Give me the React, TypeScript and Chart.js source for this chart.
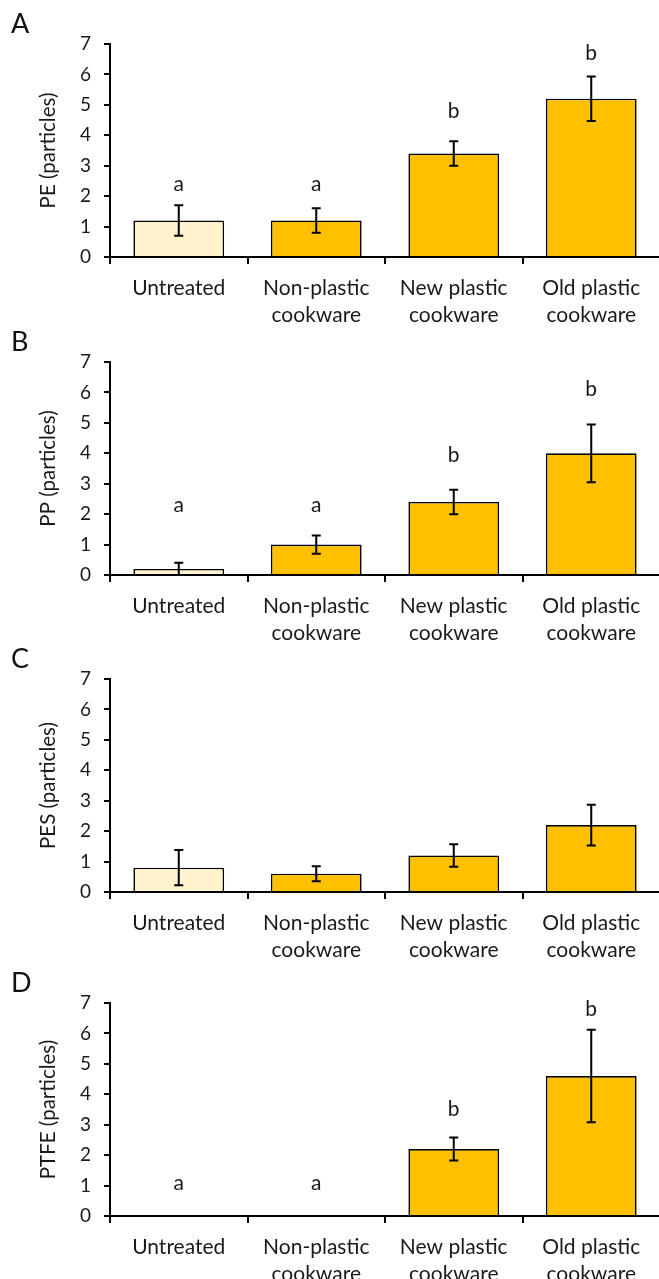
import React, { useEffect, useRef } from "react";
import { Chart, registerables } from "chart.js";

Chart.register(...registerables);

// ---------- data ----------
const categories: (string | string[])[] = [
  "Untreated",
  ["Non-plastic", "cookware"],
  ["New plastic", "cookware"],
  ["Old plastic", "cookware"],
];
const barColors = ["#FFF2CC", "#FFC000", "#FFC000", "#FFC000"];
const yTickMax = 7;

const peMeans = [1.2, 1.2, 3.4, 5.2];
const peErrors = [0.5, 0.4, 0.4, 0.73];
const peLetters = ["a", "a", "b", "b"];
const peLetterY = [2.4, 2.4, 4.8, 6.7];

const ppMeans = [0.2, 1.0, 2.4, 4.0];
const ppErrors = [0.2, 0.3, 0.4, 0.95];
const ppLetters = ["a", "a", "b", "b"];
const ppLetterY = [2.3, 2.3, 3.93, 6.12];

const pesMeans = [0.8, 0.6, 1.2, 2.2];
const pesErrors = [0.58, 0.25, 0.37, 0.67];
const pesLetters: string[] = [];
const pesLetterY: number[] = [];

const ptfeMeans = [0, 0, 2.2, 4.6];
const ptfeErrors = [0, 0, 0.38, 1.52];
const ptfeLetters = ["a", "a", "b", "b"];
const ptfeLetterY = [1.08, 1.08, 3.5, 6.78];

const panels = [
  { tag: "A", yTitle: "PE (particles)", means: peMeans, errors: peErrors, letters: peLetters, letterY: peLetterY, top: 0 },
  { tag: "B", yTitle: "PP (particles)", means: ppMeans, errors: ppErrors, letters: ppLetters, letterY: ppLetterY, top: 318 },
  { tag: "C", yTitle: "PES (particles)", means: pesMeans, errors: pesErrors, letters: pesLetters, letterY: pesLetterY, top: 635 },
  { tag: "D", yTitle: "PTFE (particles)", means: ptfeMeans, errors: ptfeErrors, letters: ptfeLetters, letterY: ptfeLetterY, top: 959 },
];

const FONT = "Lato, 'Open Sans', sans-serif";
const CANVAS_W = 660;
const CANVAS_H = 330;
const AREA_TOP = 44;
const AREA_H = 213;
const Y_AXIS_W = 110;

type PanelProps = {
  tag: string;
  yTitle: string;
  means: number[];
  errors: number[];
  letters: string[];
  letterY: number[];
  top: number;
};

function Panel(p: PanelProps) {
  const ref = useRef<HTMLCanvasElement | null>(null);
  useEffect(() => {
    if (!ref.current) return;
    const errorBars = {
      id: "errorBars",
      afterDatasetsDraw(chart: any) {
        const ctx = chart.ctx;
        const meta = chart.getDatasetMeta(0);
        const ys = chart.scales.y;
        ctx.save();
        ctx.strokeStyle = "#000";
        ctx.lineWidth = 2;
        meta.data.forEach((bar: any, i: number) => {
          const e = p.errors[i];
          if (!e) return;
          const x = bar.x;
          const yHi = ys.getPixelForValue(p.means[i] + e);
          const yLo = ys.getPixelForValue(Math.max(0, p.means[i] - e));
          ctx.beginPath();
          ctx.moveTo(x, yHi);
          ctx.lineTo(x, yLo);
          ctx.moveTo(x - 4.5, yHi);
          ctx.lineTo(x + 4.5, yHi);
          ctx.moveTo(x - 4.5, yLo);
          ctx.lineTo(x + 4.5, yLo);
          ctx.stroke();
        });
        // significance letters
        ctx.fillStyle = "#1a1a1a";
        ctx.font = `21px ${FONT}`;
        ctx.textAlign = "center";
        ctx.textBaseline = "middle";
        p.letters.forEach((l, i) => {
          const x = meta.data[i].x;
          const y = ys.getPixelForValue(p.letterY[i]);
          ctx.fillText(l, x, y);
        });
        // panel tag
        ctx.font = `27px ${FONT}`;
        ctx.textAlign = "left";
        ctx.fillStyle = "#111";
        ctx.fillText(p.tag, 11, 24);
        ctx.restore();
      },
    };
    const chart = new Chart(ref.current, {
      type: "bar",
      data: {
        labels: categories,
        datasets: [
          {
            data: p.means,
            backgroundColor: barColors,
            borderColor: "#000",
            borderWidth: 1.6,
            barPercentage: 0.66,
            categoryPercentage: 1,
          },
        ],
      },
      options: {
        animation: false,
        responsive: false,
        maintainAspectRatio: false,
        events: [],
        layout: { padding: { top: AREA_TOP, left: 0, right: 0, bottom: 0 } },
        plugins: { legend: { display: false }, tooltip: { enabled: false } },
        scales: {
          x: {
            type: "category",
            offset: true,
            grid: {
              offset: true,
              drawOnChartArea: false,
              drawTicks: true,
              tickLength: 7,
              color: "#000",
              lineWidth: 2,
            },
            border: { display: true, color: "#000", width: 2 },
            ticks: {
              color: "#1a1a1a",
              font: { family: FONT, size: 21, lineHeight: 1.28 },
              padding: 11,
              maxRotation: 0,
              autoSkip: false,
            },
            afterFit: (s: any) => {
              s.height = CANVAS_H - AREA_TOP - AREA_H;
            },
          },
          y: {
            min: 0,
            max: yTickMax,
            grid: {
              drawOnChartArea: false,
              drawTicks: true,
              tickLength: 6,
              color: "#000",
              lineWidth: 2,
            },
            border: { display: true, color: "#000", width: 2 },
            ticks: {
              stepSize: 1,
              color: "#1a1a1a",
              font: { family: FONT, size: 19 },
              padding: 13,
            },
            title: {
              display: true,
              text: p.yTitle,
              color: "#1a1a1a",
              font: { family: FONT, size: 20.5 },
              padding: { top: 36, bottom: 0 },
            },
            afterFit: (s: any) => {
              s.width = Y_AXIS_W;
            },
          },
        },
      } as any,
      plugins: [errorBars],
    });
    return () => chart.destroy();
  }, []);
  return (
    <canvas
      ref={ref}
      width={CANVAS_W}
      height={CANVAS_H}
      style={{ position: "absolute", left: 0, top: p.top, width: CANVAS_W, height: CANVAS_H }}
    />
  );
}

export default function App() {
  return (
    <div style={{ position: "absolute", left: 0, top: 0, width: 659, height: 1279, overflow: "hidden", background: "#fff" }}>
      {panels.map((pn) => (
        <Panel key={pn.tag} {...pn} />
      ))}
    </div>
  );
}
